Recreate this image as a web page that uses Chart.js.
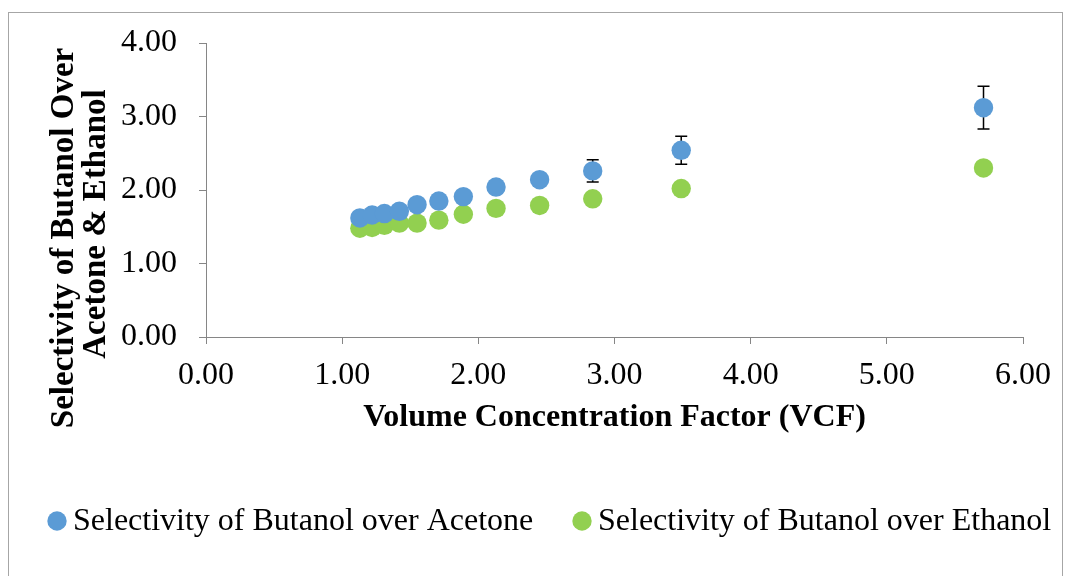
<!DOCTYPE html>
<html>
<head>
<meta charset="utf-8">
<script src="https://cdn.jsdelivr.net/npm/chart.js@4.4.1/dist/chart.umd.min.js"></script>
<style>
  html, body { margin: 0; padding: 0; background: #fff; }
  #wrap { width: 1069px; height: 576px; position: relative; }
</style>
</head>
<body>
<div id="wrap"><canvas id="vcfChart"></canvas></div>
<script>
// VCF vs. butanol selectivity
const vcf = [1.13, 1.22, 1.31, 1.42, 1.55, 1.71, 1.89, 2.13, 2.45, 2.84, 3.49, 5.71];
const butanolOverAcetone = [1.62, 1.66, 1.68, 1.71, 1.80, 1.85, 1.91, 2.04, 2.14, 2.26, 2.54, 3.12];
const butanolOverAcetoneErr = [0, 0, 0, 0, 0, 0, 0, 0, 0, 0.15, 0.19, 0.29];
const butanolOverEthanol = [1.48, 1.49, 1.52, 1.55, 1.55, 1.59, 1.67, 1.75, 1.79, 1.88, 2.02, 2.30];

const seriesLabels = ['Selectivity of Butanol over Acetone', 'Selectivity of Butanol over Ethanol'];
const seriesColors = ['#5B9BD5', '#92D050'];
const xTicks = [0, 1, 2, 3, 4, 5, 6];
const yTicks = [0, 1, 2, 3, 4];
const xTitle = 'Volume Concentration Factor (VCF)';
const yTitle = ['Selectivity of Butanol Over', 'Acetone & Ethanol'];

const SERIF = "'Liberation Serif', 'Times New Roman', serif";
const AXIS_GREY = '#868686';

const toPoints = (xs, ys) => xs.map((x, i) => ({ x, y: ys[i] }));

// outer frame round the whole chart
const framePlugin = {
    id: 'frame',
    beforeDraw(chart) {
        const { ctx } = chart;
        ctx.save();
        ctx.fillStyle = '#fff';
        ctx.fillRect(0, 0, chart.width, chart.height);
        ctx.strokeStyle = '#A6A6A6';
        ctx.lineWidth = 1;
        ctx.strokeRect(8.5, 12.5, 1054, 580);
        ctx.restore();
    },
};

// vertical error bars, drawn under the markers
const errorBarPlugin = {
    id: 'errorBars',
    beforeDatasetsDraw(chart) {
        const { ctx, scales: { x, y } } = chart;
        ctx.save();
        ctx.strokeStyle = '#000';
        ctx.lineWidth = 1.5;
        chart.data.datasets.forEach((ds) => {
            if (!ds.errors) return;
            ds.data.forEach((p, i) => {
                const e = ds.errors[i];
                if (!e) return;
                const px = x.getPixelForValue(p.x);
                const top = y.getPixelForValue(p.y + e);
                const bot = y.getPixelForValue(p.y - e);
                ctx.beginPath();
                ctx.moveTo(px, top);
                ctx.lineTo(px, bot);
                ctx.moveTo(px - 6, top);
                ctx.lineTo(px + 6, top);
                ctx.moveTo(px - 6, bot);
                ctx.lineTo(px + 6, bot);
                ctx.stroke();
            });
        });
        ctx.restore();
    },
};

// two-line rotated y title
const yTitlePlugin = {
    id: 'yTitle',
    afterDraw(chart) {
        const { ctx } = chart;
        const lines = [
            { text: yTitle[0], x: 64, y: 238 },
            { text: yTitle[1], x: 96, y: 224 },
        ];
        ctx.save();
        ctx.fillStyle = '#000';
        ctx.font = 'bold 33px ' + SERIF;
        ctx.textAlign = 'center';
        ctx.textBaseline = 'middle';
        lines.forEach((l) => {
            ctx.save();
            ctx.translate(l.x, l.y);
            ctx.rotate(-Math.PI / 2);
            ctx.fillText(l.text, 0, 0);
            ctx.restore();
        });
        ctx.restore();
    },
};

// legend row under the plot
const legendPlugin = {
    id: 'bottomLegend',
    afterDraw(chart) {
        const { ctx } = chart;
        const r = 9.7;
        const cy = 521;
        const markerX = [57, 582];
        ctx.save();
        ctx.font = '32px ' + SERIF;
        ctx.textBaseline = 'middle';
        ctx.textAlign = 'left';
        chart.data.datasets.forEach((ds, i) => {
            ctx.fillStyle = ds.backgroundColor;
            ctx.beginPath();
            ctx.arc(markerX[i], cy, r, 0, Math.PI * 2);
            ctx.fill();
            ctx.fillStyle = '#000';
            ctx.fillText(ds.label, markerX[i] + 16, cy + 1);
        });
        ctx.restore();
    },
};

const tickFont = { family: SERIF, size: 32 };

new Chart(document.getElementById('vcfChart'), {
    type: 'scatter',
    data: {
        datasets: [
            {
                label: seriesLabels[0],
                data: toPoints(vcf, butanolOverAcetone),
                errors: butanolOverAcetoneErr,
                backgroundColor: seriesColors[0],
                borderWidth: 0,
                pointRadius: 9.7,
                pointHoverRadius: 9.7,
            },
            {
                label: seriesLabels[1],
                data: toPoints(vcf, butanolOverEthanol),
                backgroundColor: seriesColors[1],
                borderWidth: 0,
                pointRadius: 9.7,
                pointHoverRadius: 9.7,
            },
        ],
    },
    options: {
        responsive: true,
        maintainAspectRatio: false,
        animation: false,
        layout: { padding: { left: 0, right: 46, top: 43, bottom: 0 } },
        plugins: {
            legend: { display: false },
            tooltip: { enabled: false },
        },
        scales: {
            x: {
                type: 'linear',
                min: 0,
                max: 6,
                afterBuildTicks: (s) => { s.ticks = xTicks.map((v) => ({ value: v })); },
                afterFit: (s) => { s.height = 239; },
                border: { display: true, color: AXIS_GREY, width: 1 },
                grid: { drawOnChartArea: false, drawTicks: true, tickLength: 7, color: AXIS_GREY },
                ticks: {
                    font: tickFont,
                    color: '#000',
                    padding: 12,
                    maxRotation: 0,
                    callback: (v) => Number(v).toFixed(2),
                },
                title: {
                    display: true,
                    text: xTitle,
                    color: '#000',
                    font: { family: SERIF, size: 32, weight: 'bold' },
                    padding: { top: 0, bottom: 139 },
                },
            },
            y: {
                type: 'linear',
                min: 0,
                max: 4,
                afterBuildTicks: (s) => { s.ticks = yTicks.map((v) => ({ value: v })); },
                afterFit: (s) => { s.width = 206; },
                border: { display: true, color: AXIS_GREY, width: 1 },
                grid: { drawOnChartArea: false, drawTicks: true, tickLength: 7, color: AXIS_GREY },
                ticks: {
                    font: tickFont,
                    color: '#000',
                    padding: 22,
                    callback: (v) => Number(v).toFixed(2),
                },
            },
        },
    },
    plugins: [framePlugin, errorBarPlugin, yTitlePlugin, legendPlugin],
});
</script>
</body>
</html>
